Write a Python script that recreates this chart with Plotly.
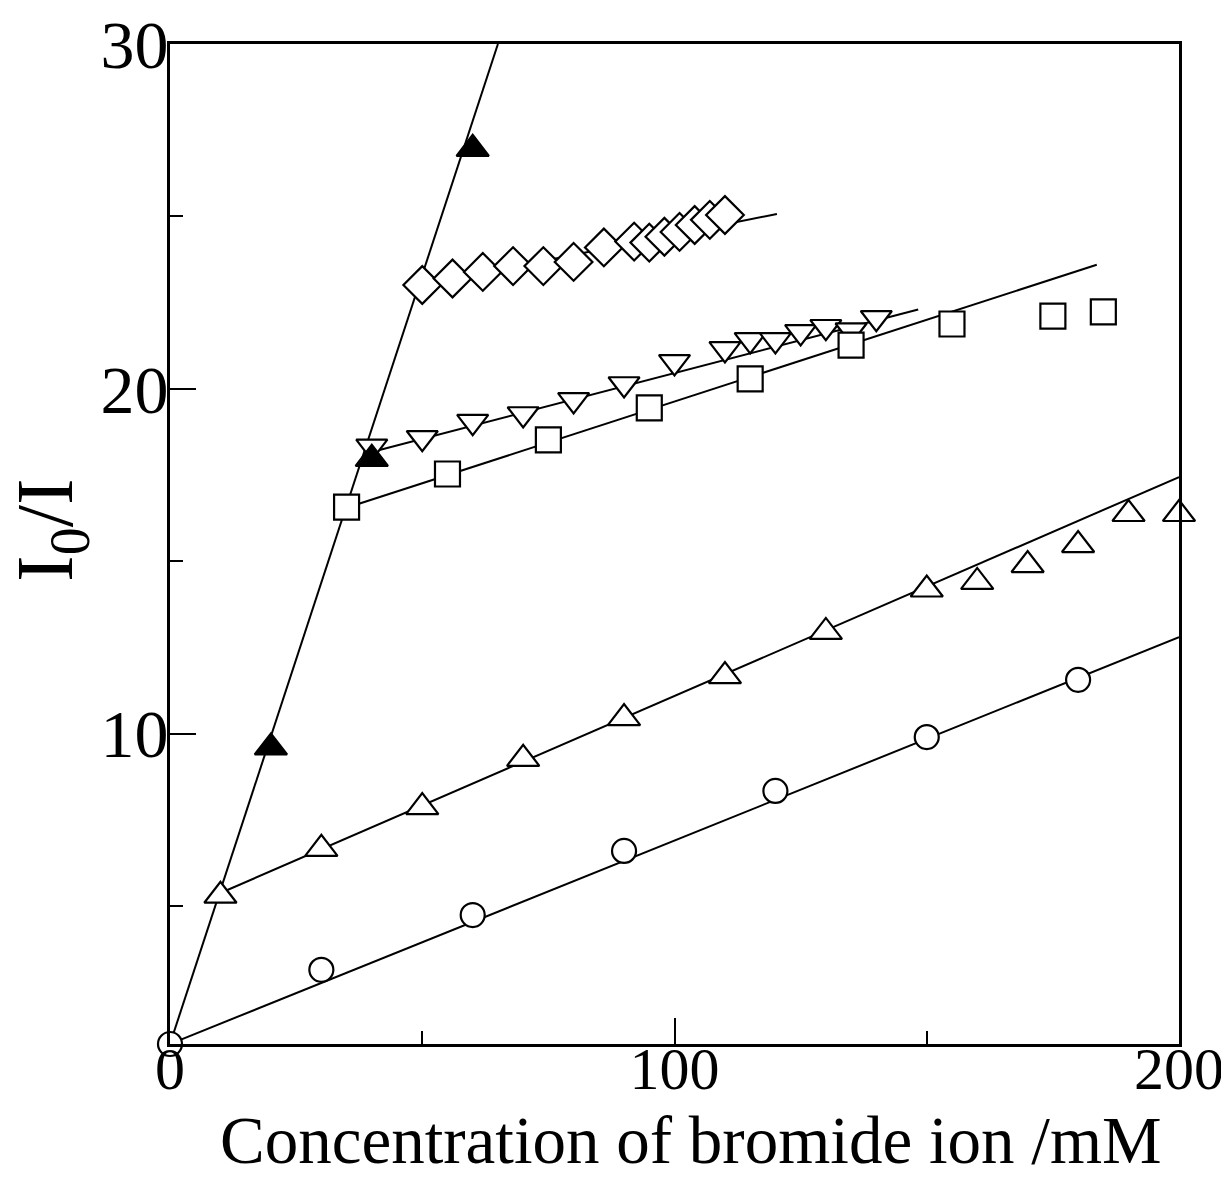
import plotly.graph_objects as go

# ---- data (concentration of bromide ion / mM, I0/I) ----
circ_x = [0, 30, 60, 90, 120, 150, 180]
circ_y = [1.0, 3.15, 4.74, 6.6, 8.34, 9.9, 11.56]

tri_x = [10, 30, 50, 70, 90, 110, 130, 150, 160, 170, 180, 190, 200]
tri_y = [5.3, 6.66, 7.87, 9.27, 10.45, 11.67, 12.95, 14.18, 14.4, 14.89, 15.47, 16.37, 16.37]

ftri_x = [20, 40, 60]
ftri_y = [9.6, 17.97, 26.96]

sq_x = [35, 55, 75, 95, 115, 135, 155, 175, 185]
sq_y = [16.57, 17.53, 18.52, 19.45, 20.29, 21.27, 21.88, 22.11, 22.23]

itri_x = [40, 50, 60, 70, 80, 90, 100, 110, 115, 120, 125, 130, 135, 140]
itri_y = [18.33, 18.58, 19.05, 19.27, 19.68, 20.14, 20.78, 21.16, 21.42, 21.42, 21.65, 21.8, 21.7, 22.06]

dia_x = [50, 56, 62, 68, 74, 80, 86, 92, 95, 98, 101, 104, 107, 110]
dia_y = [23.01, 23.2, 23.39, 23.56, 23.56, 23.68, 24.1, 24.27, 24.24, 24.41, 24.55, 24.75, 24.9, 25.04]

# fitted straight lines (end points)
fit_circ_x, fit_circ_y = [0, 200], [1.0, 12.8]
fit_tri_x, fit_tri_y = [10, 200], [5.38, 17.44]
fit_ftri_x, fit_ftri_y = [0, 65], [1.0, 30.0]
fit_sq_x, fit_sq_y = [35, 183.7], [16.55, 23.6]
fit_itri_x, fit_itri_y = [40, 148.3], [18.17, 22.3]
fit_dia_x, fit_dia_y = [50, 120.3], [23.0, 25.07]

x_ticks = [0, 100, 200]
y_ticks = [10, 20, 30]
x_title = "Concentration of bromide ion /mM"
y_title = "I<sub>0</sub>/I"

FONT = "Liberation Serif"
fig = go.Figure()

for fx, fy in [(fit_circ_x, fit_circ_y), (fit_tri_x, fit_tri_y), (fit_ftri_x, fit_ftri_y),
               (fit_sq_x, fit_sq_y), (fit_itri_x, fit_itri_y), (fit_dia_x, fit_dia_y)]:
    fig.add_trace(go.Scatter(x=fx, y=fy, mode="lines",
                             line=dict(color="black", width=2), showlegend=False))

def pts(x, y, symbol, size, fill="white"):
    fig.add_trace(go.Scatter(x=x, y=y, mode="markers", showlegend=False, cliponaxis=False,
                             marker=dict(symbol=symbol, size=size, color=fill,
                                         line=dict(color="black", width=2.2))))

pts(dia_x, dia_y, "diamond", 29)
pts(itri_x, itri_y, "triangle-down", 27)
pts(sq_x, sq_y, "square", 25)
pts(tri_x, tri_y, "triangle-up", 28)
pts(ftri_x, ftri_y, "triangle-up", 28, fill="black")
pts(circ_x, circ_y, "circle", 24)

# the page body adds an 8px margin, so the figure is sized to fit the window
fig.update_layout(
    width=1221, height=1173,
    margin=dict(l=162, r=50, t=36, b=137),
    paper_bgcolor="white", plot_bgcolor="white",
    font=dict(family=FONT, color="black", size=66),
    xaxis=dict(range=[0, 200], tickvals=x_ticks, ticktext=[str(v) for v in x_ticks],
               ticks="inside", ticklen=26, tickwidth=2, tickcolor="black",
               minor=dict(dtick=50, tick0=0, ticks="inside", ticklen=13, tickwidth=2, tickcolor="black"),
               showline=True, linewidth=3, linecolor="black", mirror=True,
               showgrid=False, zeroline=False, automargin=False,
               ticklabelstandoff=-30, ticklabeloverflow="allow",
               tickfont=dict(size=60, family=FONT)),
    yaxis=dict(range=[1, 30], tickvals=y_ticks, ticktext=[str(v) for v in y_ticks],
               ticks="inside", ticklen=26, tickwidth=2, tickcolor="black",
               minor=dict(dtick=5, tick0=0, ticks="inside", ticklen=13, tickwidth=2, tickcolor="black"),
               showline=True, linewidth=3, linecolor="black", mirror=True,
               showgrid=False, zeroline=False, automargin=False,
               ticklabelstandoff=-15, ticklabeloverflow="allow",
               tickfont=dict(size=68, family=FONT)),
    annotations=[
        dict(text=x_title, xref="paper", yref="paper", x=0.516, y=-0.096,
             xanchor="center", yanchor="middle", showarrow=False,
             font=dict(size=67, family=FONT)),
        dict(text=y_title, xref="paper", yref="paper", x=-0.118, y=0.514,
             xanchor="center", yanchor="middle", showarrow=False, textangle=-90,
             font=dict(size=80, family=FONT)),
    ],
)

fig.write_html("out.html")
